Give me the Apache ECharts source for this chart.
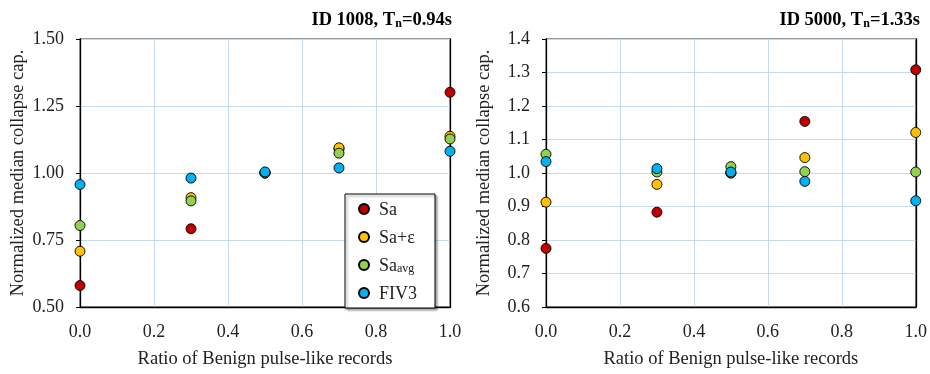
<!DOCTYPE html>
<html><head><meta charset="utf-8">
<script src="https://cdn.jsdelivr.net/npm/echarts@6/dist/echarts.min.js"></script>
<style>html,body{margin:0;padding:0;background:#fff;overflow:hidden}#c{width:930px;height:374px}</style>
</head><body><div id="c"></div>
<script>
const ratios = [0.0, 0.3, 0.5, 0.7, 1.0];
const seriesNames = ['Sa', 'Sa+ε', 'Sa_avg', 'FIV3'];
const colors = ['#C00000', '#FFC000', '#92D050', '#00B0F0'];
// ID 1008
const id1008_Sa    = [0.580, 0.792, 1.000, 1.090, 1.301];
const id1008_SaEps = [0.708, 0.908, 1.000, 1.094, 1.137];
const id1008_SaAvg = [0.804, 0.896, 1.000, 1.074, 1.127];
const id1008_FIV3  = [0.957, 0.981, 1.004, 1.019, 1.081];
// ID 5000
const id5000_Sa    = [0.775, 0.883, 1.000, 1.154, 1.308];
const id5000_SaEps = [0.913, 0.966, 1.000, 1.046, 1.121];
const id5000_SaAvg = [1.056, 1.003, 1.019, 1.004, 1.003];
const id5000_FIV3  = [1.034, 1.013, 1.003, 0.975, 0.917];
const xTicks = {min: 0, max: 1, interval: 0.2};
const yTicksLeft = {min: 0.5, max: 1.5, interval: 0.25};
const yTicksRight = {min: 0.6, max: 1.4, interval: 0.1};

const FONT = 'Liberation Serif';
const chart = echarts.init(document.getElementById('c'), null, {renderer: 'canvas', width: 930, height: 374});
const pairs = v => v.map((y, i) => [ratios[i], y]);
const leftSets = [id1008_Sa, id1008_SaEps, id1008_SaAvg, id1008_FIV3];
const rightSets = [id5000_Sa, id5000_SaEps, id5000_SaAvg, id5000_FIV3];

function xAx(gi) {
  return {
    type: 'value', gridIndex: gi, min: xTicks.min, max: xTicks.max, interval: xTicks.interval,
    name: 'Ratio of Benign pulse-like records', nameLocation: 'middle', nameGap: 43,
    nameTextStyle: {fontFamily: FONT, fontSize: 18.5, color: '#222'},
    axisLine: {show: true, onZero: false, lineStyle: {color: '#000', width: 1.3}},
    axisTick: {show: false},
    axisLabel: {fontFamily: FONT, fontSize: 18, color: '#222', margin: 16, formatter: v => v.toFixed(1)},
    splitLine: {show: true, lineStyle: {color: '#C5DCF0', width: 1}}
  };
}
function yAx(gi, t, dec) {
  return {
    type: 'value', gridIndex: gi, min: t.min, max: t.max, interval: t.interval,
    name: 'Normalized median collapse cap.', nameLocation: 'middle', nameGap: 52, nameRotate: 90,
    nameTextStyle: {fontFamily: FONT, fontSize: 18.5, color: '#222'},
    axisLine: {show: true, onZero: false, lineStyle: {color: '#000', width: 1.3}},
    axisTick: {show: true, inside: false, length: 4, lineStyle: {color: '#000'}},
    axisLabel: {fontFamily: FONT, fontSize: 18, color: '#222', margin: 16, formatter: v => v.toFixed(dec)},
    splitLine: {show: true, lineStyle: {color: '#C5DCF0', width: 1}}
  };
}
function yRightBorder(gi, t) {
  return {
    type: 'value', gridIndex: gi, position: 'right', min: t.min, max: t.max, interval: t.interval,
    axisLine: {show: true, onZero: false, lineStyle: {color: '#000', width: 1.3}},
    axisTick: {show: false}, axisLabel: {show: false}, splitLine: {show: false}
  };
}

const series = [];
[leftSets, rightSets].forEach((sets, gi) => {
  sets.forEach((vals, k) => {
    series.push({
      name: seriesNames[k], type: 'scatter', xAxisIndex: gi, yAxisIndex: gi * 2,
      data: pairs(vals), symbol: 'circle', symbolSize: 10, clip: false, z: 3 + k,
      itemStyle: {color: colors[k], borderColor: '#000', borderWidth: 0.9, opacity: 1},
      emphasis: {disabled: true}
    });
  });
});

const titleRich = {
  b: {fontFamily: FONT, fontSize: 18.5, fontWeight: 'bold', color: '#000', lineHeight: 22, verticalAlign: 'bottom'},
  s: {fontFamily: FONT, fontSize: 12, fontWeight: 'bold', color: '#000', lineHeight: 8, verticalAlign: 'bottom'}
};

chart.setOption({
  animation: false,
  backgroundColor: '#fff',
  title: [
    {text: '{b|ID 1008, T}{s|n}{b|=0.94s}', right: 478, top: 8, padding: 0, textStyle: {rich: titleRich}},
    {text: '{b|ID 5000, T}{s|n}{b|=1.33s}', right: 10, top: 8, padding: 0, textStyle: {rich: titleRich}}
  ],
  grid: [
    {left: 80, right: 480, top: 39, bottom: 59, show: true, borderColor: '#777', borderWidth: 1.3, backgroundColor: 'transparent'},
    {left: 546, right: 12, top: 39, bottom: 59, show: true, borderColor: '#777', borderWidth: 1.3, backgroundColor: 'transparent'}
  ],
  xAxis: [xAx(0), xAx(1)],
  yAxis: [yAx(0, yTicksLeft, 2), yRightBorder(0, yTicksLeft), yAx(1, yTicksRight, 1), yRightBorder(1, yTicksRight)],
  legend: {
    data: seriesNames, orient: 'vertical', left: 345, top: 194,
    padding: [5, 18, 5, 13], itemGap: 8, itemWidth: 20, itemHeight: 10,
    backgroundColor: '#fff', borderColor: '#000', borderWidth: 1,
    shadowColor: 'rgba(0,0,0,0.35)', shadowBlur: 2, shadowOffsetX: 2, shadowOffsetY: 2,
    selectedMode: false,
    formatter: n => n === 'Sa_avg' ? '{a|Sa}{s|avg}' : '{a|' + n + '}',
    textStyle: {
      fontFamily: FONT, fontSize: 18, color: '#222', lineHeight: 20,
      rich: {
        a: {fontFamily: FONT, fontSize: 18, color: '#222', lineHeight: 20, verticalAlign: 'bottom'},
        s: {fontFamily: FONT, fontSize: 12, color: '#222', lineHeight: 6, verticalAlign: 'bottom'}
      }
    }
  },
  series: series
});
</script></body></html>
